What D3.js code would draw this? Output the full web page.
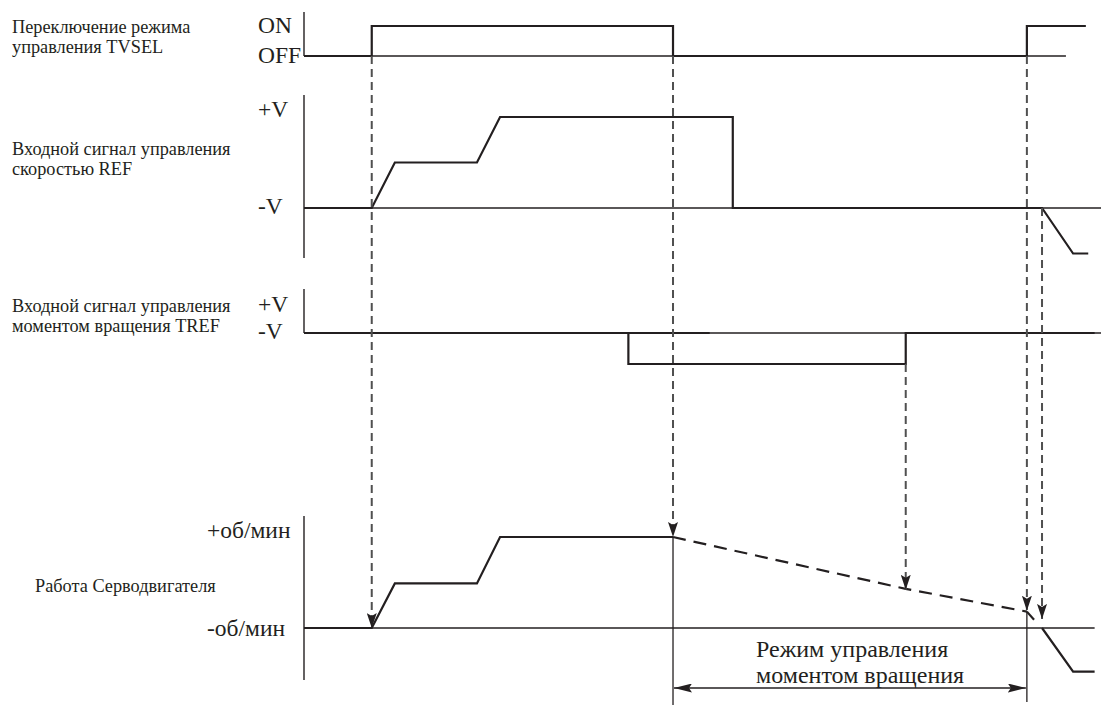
<!DOCTYPE html>
<html>
<head>
<meta charset="utf-8">
<script src="https://cdn.jsdelivr.net/npm/d3@7"></script>
<style>
  body { margin: 0; background: #fff; }
  svg text { fill: #231f20; }
</style>
</head>
<body>
<div id="chart"></div>
<script>
// Time axis is in arbitrary units 0..100, levels are per signal
const tvselTicks = ["OFF", "ON"];
const tvselSignal = [[0, 0], [8.5, 0], [8.5, 1], [46.3, 1], [46.3, 0], [90.7, 0], [90.7, 1], [98.1, 1]];

const refTicks = ["-V", "+V"];
const refSignal = [[0, 0], [8.5, 0], [11.4, 0.5], [21.7, 0.5], [24.6, 1], [53.8, 1], [53.8, 0], [92.6, 0], [96.5, -0.5], [98.4, -0.5]];

const trefTicks = ["-V", "+V"];
const trefSignal = [[0, 0], [40.7, 0], [40.7, -1], [75.5, -1], [75.5, 0], [99.2, 0]];
const trefOverlap = [[40.7, 0], [50.9, 0]];

const speedTicks = ["-об/мин", "+об/мин"];
const speedSolid = [[0, 0], [8.5, 0], [11.4, 0.49], [21.7, 0.49], [24.6, 1], [46.3, 1]];
const speedDashed = [[46.3, 1], [75.5, 0.43], [90.7, 0.18]];
const speedTail = [[90.7, 0.18], [91.6, 0.09]];
const speedReverse = [[92.6, 0], [96.5, -0.48], [99.2, -0.48]];

// dashed guides: time, start signal/level, end signal/level
const guideTimes = [8.5, 46.3, 75.5, 90.7, 92.6];
const guideFrom = [["tvsel", 0], ["tvsel", 0], ["tref", -1], ["tvsel", 0], ["ref", 0]];
const guideTo = [["speed", 0], ["speed", 1], ["speed", 0.42], ["speed", 0.19], ["speed", 0.1]];

// torque-control interval
const modeSpan = [46.3, 90.7];
const modeText = ["Режим управления", "моментом вращения"];

const names = {
  tvsel: ["Переключение режима", "управления TVSEL"],
  ref: ["Входной сигнал управления", "скоростью REF"],
  tref: ["Входной сигнал управления", "моментом вращения TREF"],
  speed: ["Работа Серводвигателя"]
};

const FONT = '"Liberation Serif", "Times New Roman", Tinos, serif';

class TimingChart {
  constructor (opts) {
    this.w = opts.w;
    this.h = opts.h;
    this.x = d3.scaleLinear().domain([0, 100]).range([304, 1101]);

    // layout of each lane
    this.lanes = {
      tvsel: { y: d3.scaleLinear().domain([0, 1]).range([56, 26]), axis: [12, 56], end: 95.6,
               ticks: tvselTicks, tickX: 258, tickDy: [7, 7], names: names.tvsel, nameX: 12, nameY: 33 },
      ref: { y: d3.scaleLinear().domain([0, 1]).range([208, 117]), axis: [95, 258], end: 100,
             ticks: refTicks, tickX: 258, tickDy: [6, 0], names: names.ref, nameX: 12, nameY: 155 },
      tref: { y: d3.scaleLinear().domain([-1, 0]).range([364, 333]), axis: [289, 333], end: 100,
              ticks: trefTicks, tickX: 258, tickDy: [6, 10], names: names.tref, nameX: 12, nameY: 312 },
      speed: { y: d3.scaleLinear().domain([0, 1]).range([628, 537]), axis: [516, 680], end: 99.2,
               ticks: speedTicks, tickX: 207, tickDy: [8, 1], names: names.speed, nameX: 35, nameY: 592 }
    };
  }

  render () {
    this.svg = d3.select('#chart')
      .append('svg')
      .attr('width', this.w)
      .attr('height', this.h)
      .attr('font-family', FONT);

    this.addMarkers();
    Object.keys(this.lanes).forEach((k) => this.addLane(this.lanes[k]));
    this.addSignals();
    this.addGuides();
    this.addMode();
  }

  addMarkers () {
    let defs = this.svg.append('defs');

    defs.append('marker')
      .attr('id', 'head')
      .attr('viewBox', '0 -5 15 10')
      .attr('refX', 15)
      .attr('refY', 0)
      .attr('markerUnits', 'userSpaceOnUse')
      .attr('markerWidth', 15)
      .attr('markerHeight', 10)
      .attr('orient', 'auto-start-reverse')
      .append('path')
      .attr('d', 'M0,-5L15,0L0,5L3,0Z')
      .attr('fill', '#231f20');

    defs.append('marker')
      .attr('id', 'head-long')
      .attr('viewBox', '0 -4.5 18 9')
      .attr('refX', 18)
      .attr('refY', 0)
      .attr('markerUnits', 'userSpaceOnUse')
      .attr('markerWidth', 18)
      .attr('markerHeight', 9)
      .attr('orient', 'auto-start-reverse')
      .append('path')
      .attr('d', 'M0,-4.5L18,0L0,4.5L3,0Z')
      .attr('fill', '#231f20');
  }

  // axis line, base line, level labels and lane name
  addLane (lane) {
    let g = this.svg.append('g');
    let x0 = this.x(0);

    g.append('line')
      .attr('x1', x0).attr('x2', x0)
      .attr('y1', lane.axis[0]).attr('y2', lane.axis[1])
      .attr('stroke', '#231f20').attr('stroke-width', 1.4);

    g.append('line')
      .attr('x1', x0).attr('x2', this.x(lane.end))
      .attr('y1', lane.y(0)).attr('y2', lane.y(0))
      .attr('stroke', '#231f20').attr('stroke-width', 1.4);

    // low level label sits on the base line, high one a unit above
    lane.ticks.forEach((t, i) => {
      g.append('text')
        .attr('x', lane.tickX)
        .attr('y', lane.y(i) + lane.tickDy[i])
        .style('font-size', '23.5px')
        .text(t);
    });

    g.selectAll('.name')
      .data(lane.names)
      .enter().append('text')
      .attr('class', 'name')
      .attr('x', lane.nameX)
      .attr('y', (d, i) => lane.nameY + i * 20)
      .style('font-size', '18.3px')
      .text((d) => d);
  }

  line (lane) {
    return d3.line()
      .x((d) => this.x(d[0]))
      .y((d) => this.lanes[lane].y(d[1]));
  }

  addSignals () {
    let draw = (lane, data, dash) => {
      this.svg.append('path')
        .attr('d', this.line(lane)(data))
        .attr('fill', 'none')
        .attr('stroke', '#231f20')
        .attr('stroke-width', 2.2)
        .attr('stroke-linejoin', 'miter')
        .attr('stroke-dasharray', dash || null);
    };

    draw('tvsel', tvselSignal);
    draw('ref', refSignal);
    draw('tref', trefSignal);
    draw('tref', trefOverlap);
    draw('speed', speedSolid);
    draw('speed', speedDashed, '13,8');
    draw('speed', speedTail);
    draw('speed', speedReverse);
  }

  addGuides () {
    guideTimes.forEach((t, i) => {
      let a = guideFrom[i], b = guideTo[i];
      this.svg.append('line')
        .attr('x1', this.x(t)).attr('x2', this.x(t))
        .attr('y1', this.lanes[a[0]].y(a[1]))
        .attr('y2', this.lanes[b[0]].y(b[1]))
        .attr('stroke', '#505050')
        .attr('stroke-width', 2)
        .attr('stroke-dasharray', '8,5')
        .attr('marker-end', 'url(#head)');
    });
  }

  addMode () {
    let y = this.lanes.speed.y;
    let xa = this.x(modeSpan[0]), xb = this.x(modeSpan[1]);

    this.svg.append('line')
      .attr('x1', xa).attr('x2', xa)
      .attr('y1', y(1)).attr('y2', 705)
      .attr('stroke', '#231f20').attr('stroke-width', 1.3);

    this.svg.append('line')
      .attr('x1', xb).attr('x2', xb)
      .attr('y1', y(speedDashed[2][1])).attr('y2', 702)
      .attr('stroke', '#231f20').attr('stroke-width', 1.3);

    this.svg.append('line')
      .attr('x1', xa + 1).attr('x2', xb - 1)
      .attr('y1', 688).attr('y2', 688)
      .attr('stroke', '#231f20').attr('stroke-width', 1.3)
      .attr('marker-start', 'url(#head-long)')
      .attr('marker-end', 'url(#head-long)');

    this.svg.selectAll('.mode')
      .data(modeText)
      .enter().append('text')
      .attr('class', 'mode')
      .attr('x', 756)
      .attr('y', (d, i) => 657 + i * 26)
      .style('font-size', '24px')
      .text((d) => d);
  }
}

new TimingChart({ w: 1101, h: 706 }).render();
</script>
</body>
</html>
